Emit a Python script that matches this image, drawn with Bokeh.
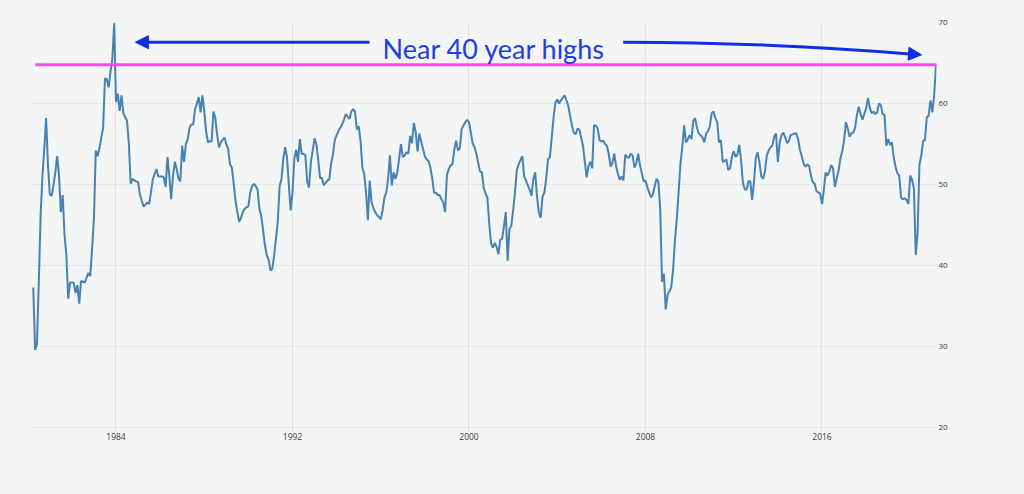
from bokeh.plotting import figure
from bokeh.models import ColumnDataSource, FixedTicker, Range1d, Label, Arrow, NormalHead
from bokeh.embed import file_html
from bokeh.resources import INLINE

# ---- data (monthly index values, April 1980 .. March 2021) ----
start_year = 1980
start_month = 4
pmi_values = [
    37.3, 29.6, 30.3, 37.9, 46.2, 51.1, 54.4, 58.2, 52.4,                    # 1980 Apr-Dec
    48.8, 48.6, 49.9, 51.5, 53.5, 51.1, 46.6, 48.7, 43.8, 41.3, 35.9, 37.9,  # 1981
    37.9, 37.9, 36.6, 37.6, 35.3, 38.1, 38.0, 37.9, 38.5, 39.1, 38.7, 42.1,  # 1982
    45.8, 54.2, 53.5, 54.5, 55.8, 57.0, 63.1, 63.0, 62.0, 63.9, 65.5, 69.9,  # 1983
    60.2, 61.2, 59.1, 61.0, 58.8, 58.3, 57.9, 55.0, 50.1, 50.7, 50.5, 50.4,  # 1984
    50.3, 48.8, 48.0, 47.3, 47.5, 47.8, 47.6, 49.0, 50.6, 51.3, 51.9, 51.0,  # 1985
    51.0, 51.0, 50.9, 49.7, 53.4, 51.1, 48.2, 51.0, 52.8, 51.9, 50.7, 50.4,  # 1986
    54.8, 52.8, 55.0, 55.6, 57.0, 57.4, 57.4, 59.3, 60.0, 60.8, 58.9, 61.0,  # 1987
    59.0, 56.6, 55.2, 55.4, 55.3, 59.0, 58.2, 56.2, 54.6, 55.2, 55.5, 55.8,  # 1988
    55.0, 54.4, 52.5, 52.1, 50.2, 48.0, 46.6, 45.4, 45.9, 46.6, 47.0, 47.2,  # 1989
    47.3, 49.0, 49.8, 50.1, 49.8, 49.4, 47.0, 46.1, 44.4, 42.5, 41.3, 40.7,  # 1990
    39.4, 39.6, 41.2, 43.3, 45.5, 49.8, 50.7, 53.2, 54.6, 53.4, 50.0, 46.8,  # 1991
    49.0, 53.2, 54.3, 52.8, 55.6, 53.8, 53.8, 53.6, 50.4, 49.6, 52.8, 54.2,  # 1992
    55.7, 55.0, 53.0, 50.8, 50.8, 49.9, 50.2, 50.5, 50.6, 52.6, 53.7, 55.5,  # 1993
    56.1, 56.6, 57.0, 57.4, 58.0, 58.7, 58.4, 58.1, 59.0, 59.3, 59.0, 56.8,  # 1994
    57.2, 55.4, 52.1, 51.3, 49.0, 45.6, 50.5, 47.8, 47.1, 46.6, 46.2, 46.0,  # 1995
    45.7, 46.8, 48.4, 49.0, 50.7, 53.6, 49.9, 51.5, 50.7, 51.5, 53.2, 55.0,  # 1996
    53.4, 53.6, 54.0, 53.8, 56.0, 55.1, 57.6, 56.5, 54.1, 56.3, 55.3, 54.4,  # 1997
    53.5, 53.1, 52.9, 52.1, 50.8, 49.0, 49.0, 48.7, 48.7, 48.2, 47.8, 46.6,  # 1998
    51.2, 51.9, 52.4, 52.5, 54.3, 55.4, 54.2, 54.5, 56.8, 57.3, 57.7, 58.0,  # 1999
    57.7, 56.4, 55.1, 54.6, 53.8, 52.7, 51.6, 51.5, 49.6, 48.9, 48.4, 45.2,  # 2000
    42.7, 42.2, 42.8, 42.3, 41.4, 43.2, 43.3, 44.8, 46.6, 40.6, 44.5, 44.9,  # 2001
    46.8, 49.0, 51.8, 52.5, 53.0, 53.5, 51.0, 50.5, 49.9, 49.4, 48.6, 50.7,  # 2002
    51.5, 48.5, 46.5, 45.9, 48.5, 49.0, 50.8, 53.1, 53.4, 55.8, 58.3, 60.1,  # 2003
    60.5, 60.0, 60.4, 60.7, 61.0, 60.4, 59.7, 58.5, 57.3, 56.4, 56.2, 56.9,  # 2004
    56.8, 55.8, 54.8, 52.8, 50.9, 52.3, 52.8, 52.0, 57.3, 57.3, 56.9, 55.5,  # 2005
    55.3, 55.4, 55.0, 54.8, 53.8, 52.2, 52.7, 53.8, 52.3, 51.3, 50.6, 51.0,  # 2006
    50.5, 53.7, 53.4, 53.3, 53.8, 53.6, 52.1, 52.6, 53.8, 52.4, 51.4, 50.4,  # 2007
    50.5, 49.7, 49.0, 48.4, 48.8, 49.8, 50.7, 50.4, 47.0, 38.0, 39.0, 34.6,  # 2008
    36.4, 36.8, 37.3, 39.5, 43.0, 45.7, 49.0, 52.6, 54.6, 57.3, 55.2, 55.6,  # 2009
    56.1, 55.6, 57.9, 58.2, 57.0, 56.3, 56.1, 55.8, 55.2, 56.3, 56.6, 57.2,  # 2010
    58.8, 59.0, 58.2, 57.7, 55.2, 55.5, 52.8, 52.9, 53.1, 51.8, 52.0, 53.4,  # 2011
    54.1, 53.4, 53.7, 54.9, 53.0, 50.2, 49.4, 49.4, 50.4, 50.4, 48.1, 50.3,  # 2012
    53.3, 54.0, 52.7, 51.0, 50.7, 51.7, 53.6, 54.2, 54.6, 54.8, 55.9, 56.3,  # 2013
    52.8, 55.2, 56.1, 56.4, 55.8, 55.1, 55.4, 56.1, 56.2, 56.3, 56.3, 55.6,  # 2014
    54.3, 53.5, 52.6, 52.2, 52.5, 52.3, 51.1, 50.3, 50.1, 49.2, 49.0, 48.9,  # 2015
    47.6, 49.3, 51.5, 51.1, 51.6, 52.4, 52.0, 49.7, 50.7, 51.7, 53.2, 54.1,  # 2016
    55.4, 57.7, 56.9, 55.9, 56.3, 56.4, 57.0, 58.6, 59.6, 58.7, 58.0, 58.7,  # 2017
    59.4, 60.7, 59.5, 58.8, 59.0, 58.7, 58.9, 60.0, 59.8, 58.7, 58.6, 54.8,  # 2018
    55.6, 54.9, 55.2, 53.4, 52.2, 51.4, 51.1, 48.4, 48.2, 48.3, 48.1, 47.6,  # 2019
    51.1, 50.6, 49.5, 41.3, 44.1, 52.4, 53.6, 55.4, 55.5, 58.3, 58.5, 60.4,  # 2020
    58.9, 61.0, 64.7,                                                        # 2021 Jan-Mar
]
x_tick_years = [1984, 1992, 2000, 2008, 2016]
x_tick_labels = ["1984", "1992", "2000", "2008", "2016"]
y_ticks = [20, 30, 40, 50, 60, 70]
highs_level = 64.8
annotation_text = "Near 40 year highs"

# annotation anchor points (year, value)
label_pos = (2001.14, 66.75)
left_arrow = (1995.49, 67.57, 1984.88, 67.57)                    # tail -> tip
right_curve = (2006.99, 67.57, 2013.22, 67.59, 2020.51, 66.01)   # start, control, tip
highs_span = (1980.35, 2021.9)

dates = [start_year + (start_month - 1 + i) / 12 for i in range(len(pmi_values))]
source = ColumnDataSource(data=dict(x=dates, y=pmi_values))

BG = "#f4f5f5"
LINE = "#4682b4"
BLUE = "#0f2fe6"
TEXT_BLUE = "#1d3fe4"
MAGENTA = "#f050f0"

p = figure(
    frame_width=905, frame_height=410,
    min_border_left=31, min_border_right=80, min_border_top=22, min_border_bottom=54,
    x_range=Range1d(1980.17, 2021.19), y_range=Range1d(19.4, 70),
    y_axis_location="right",
    output_backend="svg", toolbar_location=None,
    background_fill_color=BG, border_fill_color=BG, outline_line_color=None,
)

# axes
p.xaxis.ticker = FixedTicker(ticks=x_tick_years)
p.xaxis.major_label_overrides = {y: l for y, l in zip(x_tick_years, x_tick_labels)}
p.yaxis.ticker = FixedTicker(ticks=y_ticks)
for ax in (p.xaxis, p.yaxis):
    ax.axis_line_color = None
    ax.major_tick_line_color = None
    ax.minor_tick_line_color = None
    ax.major_tick_out = 0
    ax.major_tick_in = 0
    ax.major_label_text_color = "#3a3a3a"
    ax.major_label_text_font = "Open Sans"
p.xaxis.major_label_text_font_size = "8.5px"
p.xaxis.major_label_standoff = 0
p.yaxis.major_label_text_font_size = "8px"
p.yaxis.major_label_standoff = 2

# grids
p.xgrid.ticker = FixedTicker(ticks=x_tick_years)
p.xgrid.grid_line_color = "#e0e2e2"
p.xgrid.grid_line_width = 1
p.ygrid.ticker = FixedTicker(ticks=y_ticks)
p.ygrid.grid_line_color = "#d6d8d8"
p.ygrid.grid_line_dash = "2 2"
p.ygrid.grid_line_width = 1

# series
p.line("x", "y", source=source, line_color=LINE, line_width=2)

# magenta "highs" level
p.add_layout(Arrow(start=None, end=None,
                   x_start=highs_span[0], y_start=highs_level,
                   x_end=highs_span[1], y_end=highs_level,
                   line_color=MAGENTA, line_width=3))

# annotation text
p.add_layout(Label(x=label_pos[0], y=label_pos[1], text=annotation_text,
                   text_font="Lato", text_font_size="27px", text_color=TEXT_BLUE,
                   text_align="center", text_baseline="alphabetic"))

# left arrow
p.add_layout(Arrow(end=NormalHead(size=13, fill_color=BLUE, line_color=BLUE),
                   x_start=left_arrow[0], y_start=left_arrow[1],
                   x_end=left_arrow[2], y_end=left_arrow[3],
                   line_color=BLUE, line_width=3))

# right curved arrow
x0, y0, cx, cy, x1, y1 = right_curve
p.quadratic(x0=[x0], y0=[y0], cx=[cx], cy=[cy], x1=[x1 - 0.25], y1=[y1 + 0.05],
            line_color=BLUE, line_width=3)
back = 0.08
p.add_layout(Arrow(end=NormalHead(size=13, fill_color=BLUE, line_color=BLUE),
                   x_start=x1 - back * (x1 - cx), y_start=y1 - back * (y1 - cy),
                   x_end=x1, y_end=y1, line_alpha=0, line_width=3))

html = file_html(p, INLINE)
html = html.replace("</head>", "<style>html,body{background:#f4f5f5;}</style></head>", 1)
open("out.html", "w").write(html)
